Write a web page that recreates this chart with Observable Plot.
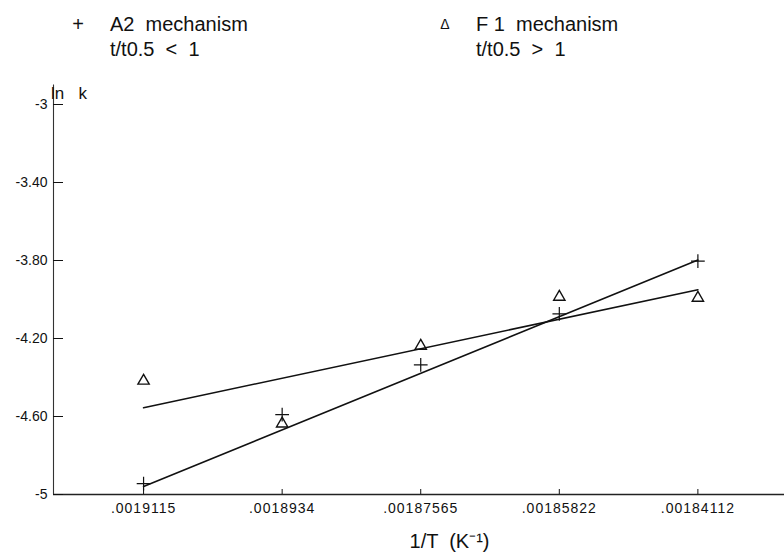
<!DOCTYPE html>
<html>
<head>
<meta charset="utf-8">
<script src="https://cdn.jsdelivr.net/npm/d3@7"></script>
<script src="https://cdn.jsdelivr.net/npm/@observablehq/plot@0.6"></script>
<style>
  html, body { margin: 0; padding: 0; background: #fff; }
  #wrap { position: relative; width: 784px; height: 554px; font-family: "Liberation Sans", Arial, sans-serif; color: #111; }
  #legend { position: relative; height: 60px; }
  .lg { position: absolute; font-size: 20px; line-height: 25px; white-space: pre; }
  .sym { position: absolute; line-height: 25px; transform: translateX(-50%); }
  svg [aria-label="x-axis tick label"] { letter-spacing: 1px; }
</style>
</head>
<body>
<div id="wrap">
  <div id="legend"></div>
  <div id="chart"></div>
</div>
<script>
// ---- data ----
const xTickLabels = [".0019115", ".0018934", ".00187565", ".00185822", ".00184112"];
const xIndex = [0, 1, 2, 3, 4];
const a2Values = [-4.944, -4.59, -4.335, -4.074, -3.803];   // + A2 mechanism
const f1Values = [-4.417, -4.637, -4.238, -3.987, -3.992];  // Δ F1 mechanism
const a2FitEnds = [-4.959, -3.798];   // fitted line at first and last x
const f1FitEnds = [-4.555, -3.95];
const fitX = [0, 4];
const yTicks = [-3, -3.4, -3.8, -4.2, -4.6, -5];
const yTickLabels = ["-3", "-3.40", "-3.80", "-4.20", "-4.60", "-5"];
const seriesNames = ["A2  mechanism", "F 1  mechanism"];
const seriesNotes = ["t/t0.5  <  1", "t/t0.5  >  1"];
const seriesSymbols = ["+", "\u0394"];
const xTitle = "1/T  (K\u207B\u00B9)";
const yTitle = "ln\u00A0\u00A0\u00A0k";

// ---- legend (HTML) ----
const legend = document.getElementById("legend");
const legendPos = [{sx: 78, tx: 110, fs: 20}, {sx: 445, tx: 476, fs: 14}];
seriesNames.forEach((name, i) => {
  const s = document.createElement("div");
  s.className = "sym"; s.style.left = legendPos[i].sx + "px"; s.style.top = "12px";
  s.style.fontSize = legendPos[i].fs + "px";
  s.textContent = seriesSymbols[i];
  legend.appendChild(s);
  const t = document.createElement("div");
  t.className = "lg"; t.style.left = legendPos[i].tx + "px"; t.style.top = "12px";
  t.textContent = name + "\n" + seriesNotes[i];
  legend.appendChild(t);
});

// ---- chart ----
const a2 = xIndex.map((x, i) => ({x, y: a2Values[i]}));
const f1 = xIndex.map((x, i) => ({x, y: f1Values[i]}));
const a2Fit = fitX.map((x, i) => ({x, y: a2FitEnds[i]}));
const f1Fit = fitX.map((x, i) => ({x, y: f1FitEnds[i]}));
const xDomain = [-0.65, 4.625];

const chart = Plot.plot({
  width: 784,
  height: 494,
  marginTop: 44,
  marginLeft: 53,
  marginRight: 0,
  marginBottom: 60,
  style: {fontFamily: "Liberation Sans, Arial, sans-serif", color: "#111", background: "#fff", overflow: "visible"},
  x: {domain: xDomain, axis: null},
  y: {domain: [-5, -3], axis: null},
  marks: [
    Plot.ruleY([-5], {stroke: "#222", strokeWidth: 1.3}),
    Plot.ruleX([xDomain[0]], {y1: -5, y2: -2.9, stroke: "#333", strokeWidth: 1.1}),
    Plot.axisY({ticks: yTicks, tickFormat: (d, i) => yTickLabels[i], tickSize: -10, tickPadding: 16, fontSize: 14, label: null}),
    Plot.axisX({ticks: xIndex, tickFormat: (d, i) => xTickLabels[i], tickSize: -5, tickPadding: 13.5, fontSize: 14, label: null}),
    Plot.text([yTitle], {frameAnchor: "top-left", dx: -2.5, dy: -17.5, textAnchor: "start", fontSize: 17}),
    Plot.text([xTitle], {frameAnchor: "bottom", dx: 30.5, dy: 53, fontSize: 20}),
    Plot.line(a2Fit, {x: "x", y: "y", stroke: "#111", strokeWidth: 1.6}),
    Plot.line(f1Fit, {x: "x", y: "y", stroke: "#111", strokeWidth: 1.6}),
    Plot.dot(a2, {x: "x", y: "y", symbol: "plus", r: 4.5, stroke: "#111", strokeWidth: 1.2}),
    Plot.dot(f1, {x: "x", y: "y", symbol: "triangle", r: 4.2, stroke: "#111", fill: "none", strokeWidth: 1.4})
  ]
});
document.getElementById("chart").appendChild(chart);
</script>
</body>
</html>
